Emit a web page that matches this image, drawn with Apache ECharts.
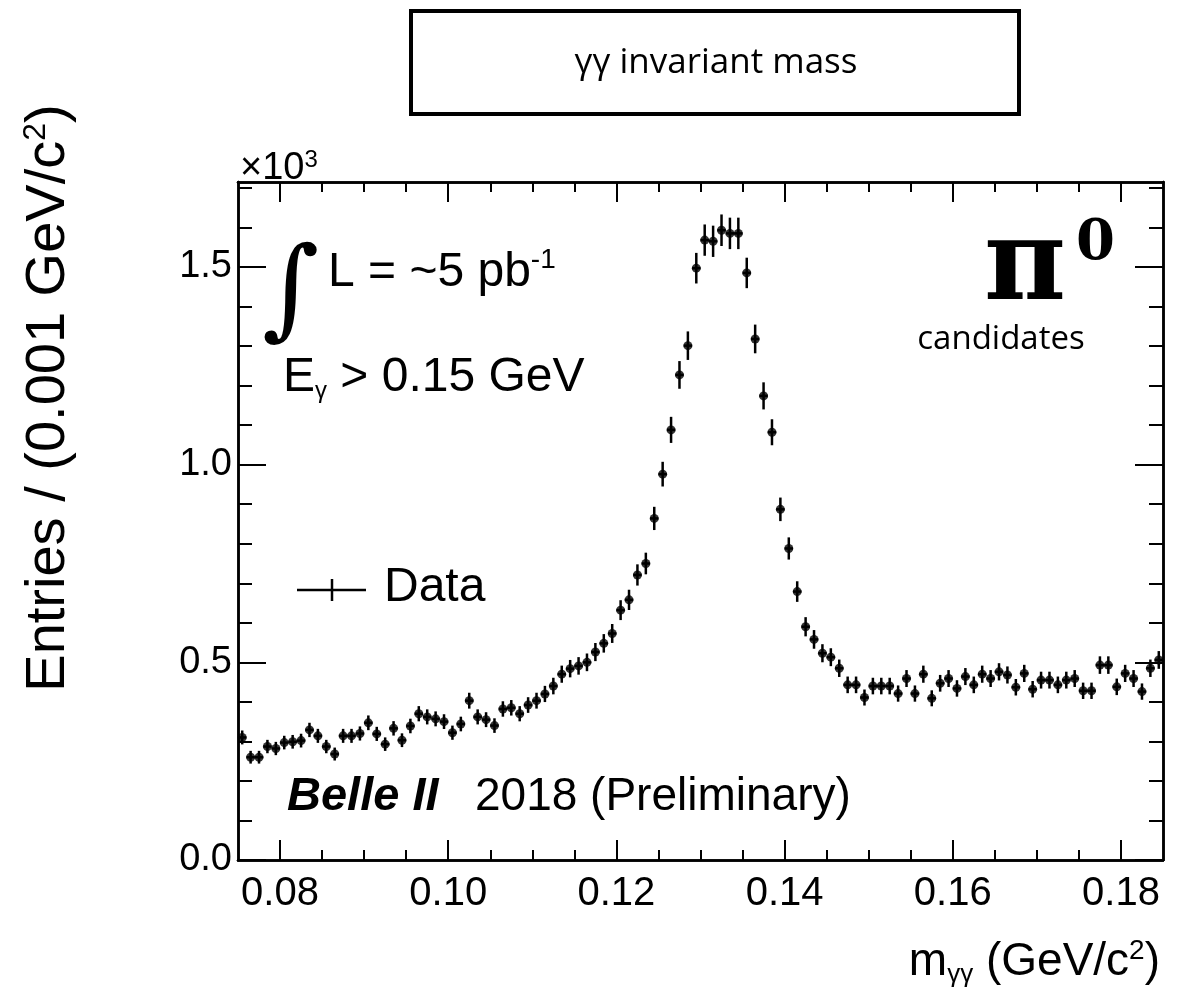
<!DOCTYPE html>
<html><head><meta charset="utf-8">
<script src="https://cdn.jsdelivr.net/npm/echarts@6/dist/echarts.min.js"></script>
<style>html,body{margin:0;padding:0;background:#fff}#c{width:1194px;height:1006px}</style>
</head><body><div id="c"></div>
<script>
// Bin edges / axis range (GeV/c^2)
var xMin = 0.075, xMax = 0.185, binWidth = 0.001;
// Entries per bin (x10^3), bin i centred at xMin + (i+0.5)*binWidth
var entries = [
 0.31,0.26,0.26,0.287,0.282,0.297,0.299,0.302,0.329,0.314,
 0.287,0.268,0.314,0.314,0.32,0.347,0.319,0.293,0.333,0.303,
 0.339,0.37,0.362,0.357,0.35,0.322,0.344,0.403,0.362,0.355,
 0.34,0.382,0.385,0.37,0.392,0.403,0.42,0.44,0.47,0.484,
 0.491,0.5,0.526,0.548,0.573,0.632,0.658,0.721,0.75,0.864,
 0.976,1.088,1.227,1.301,1.497,1.568,1.565,1.593,1.585,1.585,
 1.485,1.318,1.174,1.082,0.887,0.788,0.679,0.59,0.558,0.523,
 0.513,0.485,0.443,0.443,0.411,0.44,0.44,0.44,0.421,0.459,
 0.421,0.47,0.409,0.447,0.459,0.434,0.464,0.443,0.47,0.459,
 0.476,0.468,0.437,0.472,0.432,0.455,0.455,0.443,0.455,0.459,
 0.428,0.428,0.493,0.493,0.438,0.472,0.459,0.426,0.485,0.506
];
var xMajorTicks = [0.08,0.10,0.12,0.14,0.16,0.18];
var xMinorTicks = [0.085,0.09,0.095,0.105,0.11,0.115,0.125,0.13,0.135,0.145,0.15,0.155,0.165,0.17,0.175];
var yMin = 0, yMax = 1.715;
var yMajorTicks = [0,0.5,1.0,1.5];
var yMinorTicks = [0.1,0.2,0.3,0.4,0.6,0.7,0.8,0.9,1.1,1.2,1.3,1.4,1.6,1.7];

var pts = entries.map(function(v,i){
  var x = +(xMin + (i+0.5)*binWidth).toFixed(4);
  var err = Math.sqrt(v*1000)/1000; // Poisson error on counts
  return [x, v, err];
});

var F = '"Liberation Sans", Arial, sans-serif';
function xAx(pos, ticks, len, labels){
  return {type:'value', min:xMin, max:xMax, position:pos,
    axisLine:{show:true, onZero:false, lineStyle:{color:'#000', width:2.5}},
    axisTick:{show:true, inside:true, length:len, customValues:ticks, lineStyle:{color:'#000', width:2}},
    axisLabel:{show:labels, customValues:ticks, formatter:function(v){return v.toFixed(2);}, color:'#000', fontSize:40, fontFamily:F, margin:14},
    splitLine:{show:false}};
}
function yAx(pos, ticks, len, labels){
  return {type:'value', min:yMin, max:yMax, position:pos,
    axisLine:{show:true, onZero:false, lineStyle:{color:'#000', width:2.5}},
    axisTick:{show:true, inside:true, length:len, customValues:ticks, lineStyle:{color:'#000', width:2}},
    axisLabel:{show:labels, customValues:ticks, formatter:function(v){return v.toFixed(1);}, color:'#000', fontSize:38, fontFamily:F, margin:6},
    splitLine:{show:false}};
}

var chart = echarts.init(document.getElementById('c'), null, {renderer:'canvas'});
chart.setOption({
  animation:false,
  backgroundColor:'#fff',
  grid:{left:238, right:31, top:182, bottom:146},
  xAxis:[xAx('bottom', xMajorTicks, 20, true), xAx('bottom', xMinorTicks, 10, false),
         xAx('top', xMajorTicks, 20, false), xAx('top', xMinorTicks, 10, false)],
  yAxis:[yAx('left', yMajorTicks, 28, true), yAx('left', yMinorTicks, 14, false),
         yAx('right', yMajorTicks, 28, false), yAx('right', yMinorTicks, 14, false)],
  series:[
    {type:'custom', xAxisIndex:0, yAxisIndex:0, clip:true,
     renderItem:function(params, api){
       var x = api.value(0), y = api.value(1), e = api.value(2);
       var p0 = api.coord([x, y - e]), p1 = api.coord([x, y + e]);
       var h0 = api.coord([x - binWidth/2, y]), h1 = api.coord([x + binWidth/2, y]);
       var st = {stroke:'#000', lineWidth:2.5};
       return {type:'group', children:[
         {type:'line', shape:{x1:p0[0], y1:p0[1], x2:p1[0], y2:p1[1]}, style:st},
         {type:'line', shape:{x1:h0[0], y1:h0[1], x2:h1[0], y2:h1[1]}, style:st}
       ]};
     },
     encode:{x:0, y:1}, data:pts},
    {type:'scatter', xAxisIndex:0, yAxisIndex:0, symbol:'circle', symbolSize:9,
     itemStyle:{color:'#000'}, data:pts.map(function(p){return [p[0],p[1]];})}
  ],
  graphic:[
    {type:'rect', shape:{x:411, y:11, width:608, height:103}, style:{fill:'#fff', stroke:'#000', lineWidth:4}},
    {type:'text', x:716, y:63, style:{text:'γγ invariant mass', font:'35px "Open Sans"', fill:'#000', textAlign:'center', textVerticalAlign:'middle'}},
    {type:'text', x:240, y:169, style:{text:'×10{s|3}', rich:{s:{fontSize:24, fontFamily:F, padding:[0,0,18,0]}}, font:'38px '+F, fill:'#000', textAlign:'left', textVerticalAlign:'middle'}},
    {type:'text', x:49, y:398, rotation:Math.PI/2, style:{text:'Entries / (0.001 GeV/c{s|2})', rich:{s:{fontSize:32, fontFamily:F, padding:[0,0,26,0]}}, font:'56px '+F, fill:'#000', textAlign:'center', textVerticalAlign:'middle'}},
    {type:'text', x:1160, y:962, style:{text:'m{b|γγ} (GeV/c{s|2})', rich:{b:{fontSize:26, fontFamily:F, padding:[26,0,0,0]}, s:{fontSize:28, fontFamily:F, padding:[0,0,22,0]}}, font:'46px '+F, fill:'#000', textAlign:'right', textVerticalAlign:'middle'}},
    {type:'text', x:262, y:296, style:{text:'∫', font:'110px "DejaVu Serif"', fill:'#000', textAlign:'left', textVerticalAlign:'middle'}},
    {type:'text', x:328, y:273, style:{text:'L = ~5 pb{s|-1}', rich:{s:{fontSize:28, fontFamily:F, padding:[0,0,26,0]}}, font:'48px '+F, fill:'#000', textAlign:'left', textVerticalAlign:'middle'}},
    {type:'text', x:283, y:378, style:{text:'E{b|γ} > 0.15 GeV', rich:{b:{fontSize:24, fontFamily:F, padding:[26,0,0,0]}}, font:'48px '+F, fill:'#000', textAlign:'left', textVerticalAlign:'middle'}},
    {type:'line', shape:{x1:297, y1:590, x2:366, y2:590}, style:{stroke:'#000', lineWidth:2.5}},
    {type:'line', shape:{x1:332, y1:579, x2:332, y2:601}, style:{stroke:'#000', lineWidth:2.5}},
    {type:'text', x:384, y:588, style:{text:'Data', font:'48px '+F, fill:'#000', textAlign:'left', textVerticalAlign:'middle'}},
    {type:'text', x:287, y:797, style:{text:'Belle II', font:'italic bold 47px '+F, fill:'#000', textAlign:'left', textVerticalAlign:'middle'}},
    {type:'text', x:475, y:797, style:{text:'2018 (Preliminary)', font:'46px '+F, fill:'#000', textAlign:'left', textVerticalAlign:'middle'}},
    {type:'text', x:984, y:270, style:{text:'π', font:'bold 112px "DejaVu Serif"', fill:'#000', textAlign:'left', textVerticalAlign:'middle'}},
    {type:'text', x:1076, y:244, style:{text:'0', font:'bold 56px "DejaVu Serif"', fill:'#000', textAlign:'left', textVerticalAlign:'middle'}},
    {type:'text', x:1001, y:340, style:{text:'candidates', font:'33px "Open Sans"', fill:'#000', textAlign:'center', textVerticalAlign:'middle'}}
  ]
});
</script></body></html>
